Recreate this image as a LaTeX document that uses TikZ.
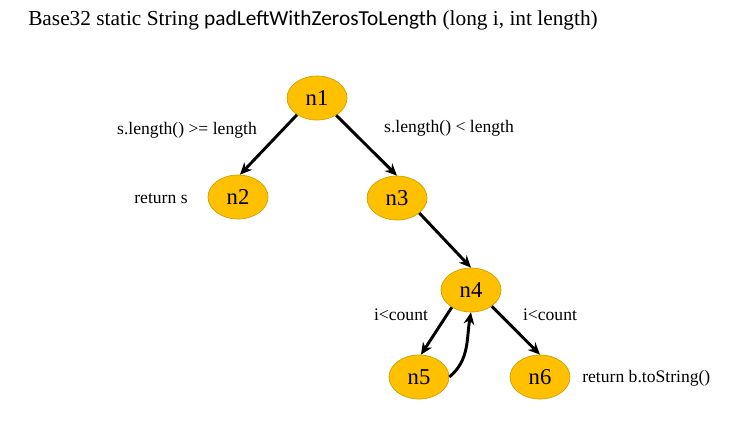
\documentclass[tikz,border=0pt]{standalone}
\usepackage{fontspec}
\setmainfont{Liberation Serif}
\newfontfamily\calibri{Carlito}
\usetikzlibrary{arrows.meta,shapes.geometric}
\definecolor{nodefill}{HTML}{FFC000}
\definecolor{nodeborder}{HTML}{C9A000}
\tikzset{
  cfgnode/.style={ellipse,draw=nodeborder,line width=0.5pt,fill=nodefill,minimum width=45pt,minimum height=33pt,inner sep=0pt,font=\fontsize{17}{19}\selectfont},
  edgelabel/.style={font=\fontsize{13.2}{15}\selectfont,inner sep=0pt},
  flow/.style={-{Stealth[length=9pt,width=8pt]},line width=2.2pt,black}
}
\begin{document}
\begin{tikzpicture}[x=0.75pt,y=-0.75pt]
\useasboundingbox (0,0) rectangle (730,429);
\node[anchor=west,inner sep=0pt,font=\fontsize{16}{18}\selectfont] (title) at (28,20) {Base32 static String {\calibri padLeftWithZerosToLength} (long i, int length)};
\node[cfgnode] (n1) at (317,98) {n1};
\node[cfgnode] (n2) at (238,197) {n2};
\node[cfgnode] (n3) at (397,198) {n3};
\node[cfgnode] (n4) at (471,290) {n4};
\node[cfgnode] (n5) at (419,377) {n5};
\node[cfgnode] (n6) at (540,377) {n6};
\node[edgelabel] (l1) at (187,130) {s.length() >= length};
\node[edgelabel] (l2) at (449,128) {s.length() < length};
\node[edgelabel] (l3) at (161,199) {return s};
\node[edgelabel] (l4) at (401,315) {i<count};
\node[edgelabel] (l5) at (550,315) {i<count};
\node[edgelabel,anchor=west] (l6) at (582,378) {return b.toString()};
\draw[flow] (n1.220) -- (n2.85);
\draw[flow] (n1.318) -- (n3.north);
\draw[flow] (n3.326) -- (n4.north);
\draw[flow] (n4.222) -- (n5.85);
\draw[flow] (n4.322) -- (n6.north);
\draw[flow] (n5.east) to[out=40,in=-100] (n4.south);
\end{tikzpicture}
\end{document}
